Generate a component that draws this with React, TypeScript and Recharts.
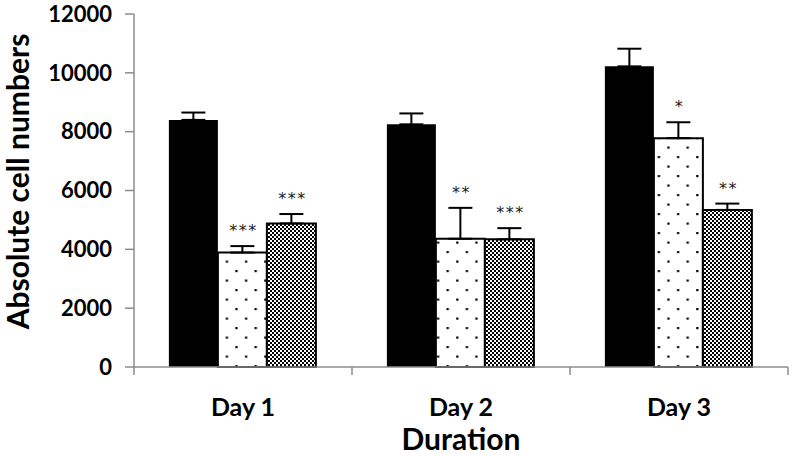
import React from 'react';
import { BarChart, Bar, XAxis, YAxis, ErrorBar, LabelList } from 'recharts';

const categories = ['Day 1', 'Day 2', 'Day 3'];
const controlValues = [8400, 8250, 10220];
const controlErrors = [250, 370, 600];
const dottedValues = [3890, 4360, 7780];
const dottedErrors = [220, 1050, 540];
const hatchedValues = [4880, 4340, 5340];
const hatchedErrors = [320, 380, 215];
const dottedStars = ['***', '**', '*'];
const hatchedStars = ['***', '***', '**'];
const yTicks = [0, 2000, 4000, 6000, 8000, 10000, 12000];

const data = categories.map((day, i) => ({
  day,
  control: controlValues[i],
  controlErr: [0, controlErrors[i]],
  dotted: dottedValues[i],
  dottedErr: [0, dottedErrors[i]],
  dottedStar: dottedStars[i],
  hatched: hatchedValues[i],
  hatchedErr: [0, hatchedErrors[i]],
  hatchedStar: hatchedStars[i],
}));

const AXIS = '#8c8c8c';
const FONT = 'Lato, "Open Sans", sans-serif';

const XTick = (props: any) => {
  const { x, y, payload, index, width, visibleTicksCount } = props;
  const bw = width && visibleTicksCount ? width / visibleTicksCount : 218;
  const last = index === (visibleTicksCount || 3) - 1;
  return (
    <g>
      <line x1={x - bw / 2} x2={x - bw / 2} y1={y} y2={y + 8} stroke={AXIS} strokeWidth={1.5} />
      {last && <line x1={x + bw / 2} x2={x + bw / 2} y1={y} y2={y + 8} stroke={AXIS} strokeWidth={1.5} />}
      <text x={x} y={y + 49} textAnchor="middle" fontFamily={FONT} fontWeight={700} fontSize={25} fill="#000">
        {payload.value}
      </text>
    </g>
  );
};

const makeStar = (values: number[], errors: number[]) => (props: any) => {
  const vb = props.viewBox || {};
  const x = props.x ?? vb.x;
  const y = props.y ?? vb.y;
  const w = props.width ?? vb.width;
  const h = props.height ?? vb.height;
  const i = props.index;
  if (x == null || i == null) return null;
  const pxPerUnit = Math.abs(h) / values[i];
  const errTop = y - errors[i] * pxPerUnit;
  return (
    <text
      x={x + w / 2 + 1}
      y={errTop - 10}
      textAnchor="middle"
      fontFamily='"DejaVu Sans", sans-serif'
      fontSize={16}
      letterSpacing={1.5}
      fill="#1a1a1a"
    >
      {props.value}
    </text>
  );
};

const YTitle = (props: any) => {
  const vb = props.viewBox || { x: 0, y: 14, width: 134, height: 353 };
  const cx = vb.x + 17;
  const cy = vb.y + vb.height / 2 - 9;
  return (
    <text
      x={cx}
      y={cy}
      transform={`rotate(-90, ${cx}, ${cy})`}
      textAnchor="middle"
      dominantBaseline="central"
      fontFamily={FONT}
      fontWeight={700}
      fontSize={30}
      fill="#000"
    >
      Absolute cell numbers
    </text>
  );
};

const XTitle = (props: any) => {
  const vb = props.viewBox || { x: 134, y: 367, width: 654, height: 89 };
  return (
    <text
      x={vb.x + vb.width / 2}
      y={vb.y + vb.height - 6}
      textAnchor="middle"
      fontFamily={FONT}
      fontWeight={700}
      fontSize={30}
      fill="#000"
    >
      Duration
    </text>
  );
};

export default function App() {
  return (
    <div style={{ position: 'absolute', left: 0, top: 0, width: 792, height: 456, background: '#fff' }}>
      <BarChart
        width={792}
        height={456}
        data={data}
        margin={{ top: 14, right: 4, bottom: 0, left: 0 }}
        barCategoryGap="16%"
        barGap={0}
      >
        <defs>
          <pattern id="dots" width="19.2" height="19" patternUnits="userSpaceOnUse">
            <rect x="0" y="0" width="19.2" height="19" fill="#fff" />
            <rect x="5" y="4" width="2.2" height="2.2" fill="#000" />
            <rect x="14.6" y="13.5" width="2.2" height="2.2" fill="#000" />
          </pattern>
          <pattern id="checker" width="4" height="4" patternUnits="userSpaceOnUse">
            <rect x="0" y="0" width="4" height="4" fill="#fff" />
            <rect x="0" y="0" width="2" height="2" fill="#000" />
            <rect x="2" y="2" width="2" height="2" fill="#000" />
          </pattern>
        </defs>
        <XAxis
          dataKey="day"
          height={89}
          axisLine={{ stroke: AXIS, strokeWidth: 1.5 }}
          tickLine={false}
          tickSize={0}
          tickMargin={0}
          tick={<XTick />}
          interval={0}
          label={XTitle}
        />
        <YAxis
          width={134}
          domain={[0, 12000]}
          ticks={yTicks}
          interval={0}
          axisLine={{ stroke: AXIS, strokeWidth: 1.5 }}
          tickLine={{ stroke: AXIS, strokeWidth: 1.5 }}
          tickSize={9}
          tickMargin={13}
          tick={{ fontFamily: FONT, fontWeight: 700, fontSize: 22, fill: '#000' }}
          label={YTitle}
        />
        <Bar dataKey="control" name="Control" fill="#000" isAnimationActive={false}>
          <ErrorBar dataKey="controlErr" direction="y" width={12} stroke="#000" strokeWidth={2} />
        </Bar>
        <Bar dataKey="dotted" name="Treatment A" fill="url(#dots)" stroke="#000" strokeWidth={2} isAnimationActive={false}>
          <ErrorBar dataKey="dottedErr" direction="y" width={12} stroke="#000" strokeWidth={2} />
          <LabelList dataKey="dottedStar" content={makeStar(dottedValues, dottedErrors)} />
        </Bar>
        <Bar dataKey="hatched" name="Treatment B" fill="url(#checker)" stroke="#000" strokeWidth={2} isAnimationActive={false}>
          <ErrorBar dataKey="hatchedErr" direction="y" width={12} stroke="#000" strokeWidth={2} />
          <LabelList dataKey="hatchedStar" content={makeStar(hatchedValues, hatchedErrors)} />
        </Bar>
      </BarChart>
    </div>
  );
}
